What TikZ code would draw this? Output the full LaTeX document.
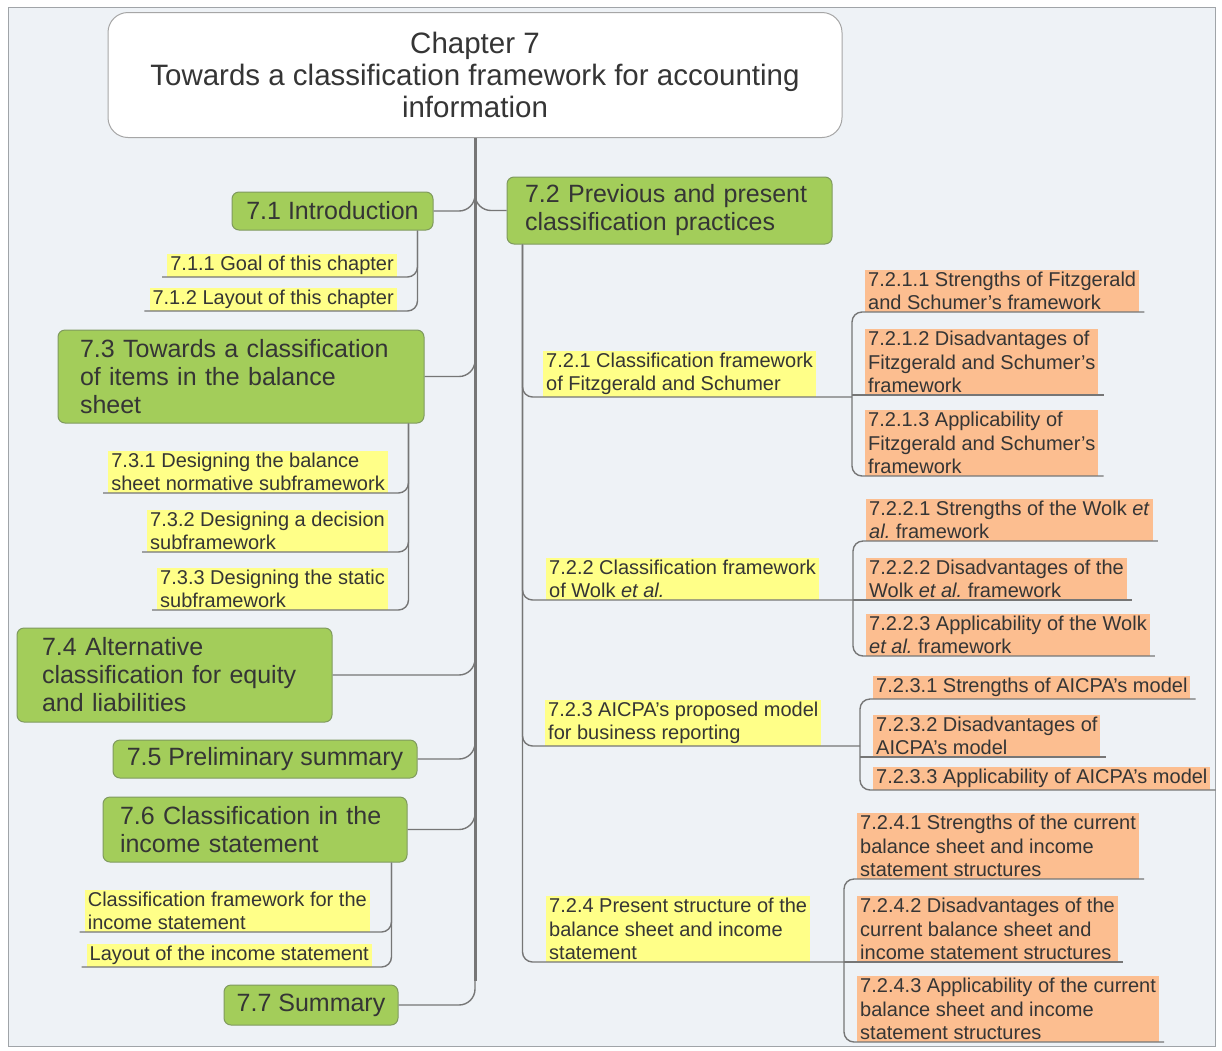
\documentclass[tikz,border=0pt]{standalone}
\usepackage{fontspec}
\setmainfont{Liberation Sans}
\usetikzlibrary{positioning, calc}
\definecolor{mmgreen}{HTML}{A3CD5A}
\definecolor{mmgreenline}{HTML}{7F9A5E}
\definecolor{mmyellow}{HTML}{FFFF88}
\definecolor{mmorange}{HTML}{FCBE90}
\definecolor{mmline}{HTML}{767676}
\definecolor{mmtext}{HTML}{353535}
\definecolor{mmback}{HTML}{EEF2F6}
\definecolor{mmframe}{HTML}{A0A4A8}

\begin{document}
\begin{tikzpicture}[
  x=1pt, y=-1pt,
  chapbox/.style={rectangle, rounded corners=20pt,
    draw=gray!70, fill=white, line width=1pt,
    align=center, inner sep=0pt, text=mmtext,
    font=\fontsize{29.5}{32}\selectfont},
  topic/.style={rectangle, rounded corners=7pt,
    draw=mmgreenline, fill=mmgreen, line width=1pt,
    inner sep=0pt, text=mmtext,
    font=\fontsize{25}{28}\selectfont},
  subtopic/.style={rectangle, fill=mmyellow,
    inner xsep=3pt, inner ysep=2pt, align=left, text=mmtext,
    font=\fontsize{20}{23.5}\selectfont},
  detail/.style={subtopic, fill=mmorange},
  trunk/.style={draw=mmline, line width=3pt},
  branch/.style={draw=mmline, line width=1.4pt, rounded corners=10pt},
  twig/.style={draw=mmline, line width=1.4pt, rounded corners=16pt}
]
  \useasboundingbox (0,0) rectangle (1222,1050);
  \fill[white] (0,0) rectangle (1222,1050);
  \draw[mmframe, fill=mmback] (8,7) rectangle (1215,1046);

  % central topic
  \node[chapbox, minimum width=734, minimum height=125] (chap) at (475,75)
    {Chapter 7\\Towards a classification framework for accounting\\information};

  % main topics
  \node[topic, minimum width=201, minimum height=38] (intro) at (332.5,211)
    {7.1 Introduction};
  \node[topic, minimum width=325, minimum height=67, text width=289, align=left]
    (prev) at (669.5,210.5) {7.2 Previous and present\\classification practices};
  \node[topic, minimum width=366, minimum height=93, text width=322, align=left]
    (towards) at (241,376.5)
    {7.3 Towards a classification\\of items in the balance\\sheet};
  \node[topic, minimum width=315, minimum height=94, text width=265, align=left]
    (alt) at (174.5,675) {7.4 Alternative\\classification for equity\\and liabilities};
  \node[topic, minimum width=304, minimum height=38] (prelim) at (265,759)
    {7.5 Preliminary summary};
  \node[topic, minimum width=304, minimum height=65, text width=270, align=left]
    (incst) at (255,829.5) {7.6 Classification in the\\income statement};
  \node[topic, minimum width=174, minimum height=40] (summ) at (311,1005)
    {7.7 Summary};

  % left subtopics
  \node[subtopic, anchor=south east] (goal) at (397,277)
    {7.1.1 Goal of this chapter};
  \node[subtopic, anchor=south east] (layout) at (397,311)
    {7.1.2 Layout of this chapter};
  \node[subtopic, anchor=south east] (design1) at (388,493)
    {7.3.1 Designing the balance\\sheet normative subframework};
  \node[subtopic, anchor=south east] (design2) at (388,552)
    {7.3.2 Designing a decision\\subframework};
  \node[subtopic, anchor=south east] (design3) at (388,610)
    {7.3.3 Designing the static\\subframework};
  \node[subtopic, anchor=south east] (clsinc) at (370,932)
    {Classification framework for the\\income statement};
  \node[subtopic, anchor=south east] (layinc) at (372,967)
    {Layout of the income statement};

  % right subtopics
  \node[subtopic, anchor=south west] (fitz) at (543,397)
    {7.2.1 Classification framework\\of Fitzgerald and Schumer};
  \node[subtopic, anchor=south west] (wolk) at (546,600)
    {7.2.2 Classification framework\\of Wolk \textit{et al.}};
  \node[subtopic, anchor=south west] (aicpa) at (545,746)
    {7.2.3 AICPA's proposed model\\for business reporting};
  \node[subtopic, anchor=south west] (pres) at (546,962)
    {7.2.4 Present structure of the\\balance sheet and income\\statement};

  % details
  \node[detail, anchor=south west] (f1) at (865,312)
    {7.2.1.1 Strengths of Fitzgerald\\and Schumer's framework};
  \node[detail, anchor=south west] (f2) at (865,395)
    {7.2.1.2 Disadvantages of\\Fitzgerald and Schumer's\\framework};
  \node[detail, anchor=south west] (f3) at (865,476)
    {7.2.1.3 Applicability of\\Fitzgerald and Schumer's\\framework};
  \node[detail, anchor=south west] (w1) at (866,541)
    {7.2.2.1 Strengths of the Wolk \textit{et}\\\textit{al.}\ framework};
  \node[detail, anchor=south west] (w2) at (866,600)
    {7.2.2.2 Disadvantages of the\\Wolk \textit{et al.}\ framework};
  \node[detail, anchor=south west] (w3) at (866,656)
    {7.2.2.3 Applicability of the Wolk\\\textit{et al.}\ framework};
  \node[detail, anchor=south west] (a1) at (873,699)
    {7.2.3.1 Strengths of AICPA's model};
  \node[detail, anchor=south west] (a2) at (873,757)
    {7.2.3.2 Disadvantages of\\AICPA's model};
  \node[detail, anchor=south west] (a3) at (873,790)
    {7.2.3.3 Applicability of AICPA's model};
  \node[detail, anchor=south west] (p1) at (857,879)
    {7.2.4.1 Strengths of the current\\balance sheet and income\\statement structures};
  \node[detail, anchor=south west] (p2) at (857,962)
    {7.2.4.2 Disadvantages of the\\current balance sheet and\\income statement structures};
  \node[detail, anchor=south west] (p3) at (857,1042)
    {7.2.4.3 Applicability of the current\\balance sheet and income\\statement structures};

  % main branches
  \foreach \n in {intro, towards, alt, prelim, incst, summ}
    \draw[twig] (\n.east) -| ($(\n.east -| chap.south)+(0,-30)$);
  \draw[twig] (prev.west) -| ($(prev.west -| chap.south)+(0,-30)$);
  \draw[trunk] (chap.south) -- ($(summ.east -| chap.south)+(0,-24)$);

  % left subtopic lines
  \foreach \c in {goal, layout}
    \draw[branch] ($(\c.south west)+(-5,0)$) -| ($(intro.south east)+(-16,0)$);
  \foreach \c in {design1, design2, design3}
    \draw[branch] ($(\c.south west)+(-5,0)$) -| ($(towards.south east)+(-16,0)$);
  \foreach \c in {clsinc, layinc}
    \draw[branch] ($(\c.south west)+(-5,0)$) -| ($(incst.south east)+(-16,0)$);

  % right subtopic lines
  \foreach \s/\d in {fitz/f1, wolk/w1, aicpa/a1, pres/p1}
    \draw[branch] ($(prev.south west)+(16,0)$) |- ($(\s.south -| \d.west)+(-13,0)$);

  % detail lines
  \foreach \a/\b/\c in {f1/f2/f3, w1/w2/w3, a1/a2/a3, p1/p2/p3} {
    \draw[branch] ($(\a.south east)+(5,0)$) -| ($(\c.south west)+(-13,0)$)
      -- ($(\c.south east)+(5,0)$);
    \draw[branch] ($(\b.south west)+(-13,0)$) -- ($(\b.south east)+(5,0)$);
  }
\end{tikzpicture}
\end{document}
